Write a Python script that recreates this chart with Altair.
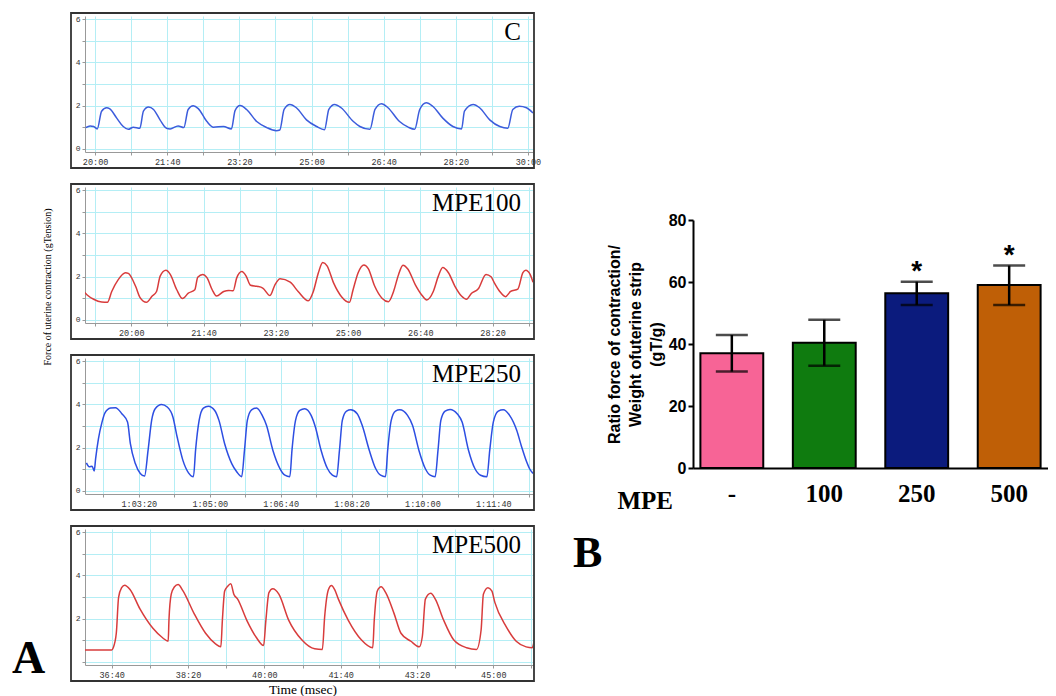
import altair as alt
import pandas as pd

# ---------------- traces (time in s, tension in g) ----------------
C_TRACE = [(1187,0.98),(1193,1.06),(1198,1.03),(1203,0.92),(1209,1.74),(1216,1.90),(1220,1.86),(1230,1.42),(1239,1.03),(1246,0.90),(1253,1.00),(1262,0.95),(1267,1.74),(1274,1.93),(1281,1.82),(1290,1.34),(1299,0.95),(1304,0.92),(1315,1.06),(1323,0.98),(1329,1.82),(1336,1.99),(1343,1.86),(1355,1.26),(1364,1.00),(1378,1.03),(1389,0.92),(1394,1.77),(1401,2.00),(1410,1.82),(1424,1.26),(1438,0.98),(1451,0.84),(1456,0.87),(1462,1.82),(1470,2.05),(1479,1.90),(1493,1.34),(1507,1.03),(1518,0.88),(1524,1.82),(1532,2.05),(1541,1.90),(1558,1.26),(1567,1.03),(1581,0.90),(1588,1.82),(1597,2.09),(1606,1.90),(1622,1.26),(1634,1.00),(1643,0.90),(1650,1.82),(1659,2.13),(1668,1.97),(1682,1.42),(1696,1.03),(1708,0.92),(1712,1.74),(1724,2.05),(1733,1.90),(1747,1.34),(1761,1.03),(1772,0.95),(1779,1.82),(1788,1.97),(1798,1.90),(1807,1.66)]

MPE100_TRACE = [(1133,1.36),(1139,1.15),(1148,0.95),(1159,0.82),(1167,0.81),(1173,1.31),(1182,1.86),(1192,2.18),(1196,2.15),(1206,1.55),(1212,1.04),(1221,0.81),(1229,1.10),(1235,1.31),(1240,2.02),(1248,2.29),(1254,2.10),(1263,1.39),(1271,0.98),(1279,1.23),(1288,1.39),(1292,1.97),(1299,2.10),(1305,1.94),(1312,1.39),(1318,1.10),(1328,1.31),(1335,1.36),(1341,1.34),(1346,1.94),(1353,2.23),(1359,2.02),(1365,1.60),(1374,1.55),(1382,1.47),(1392,1.12),(1399,1.63),(1406,1.90),(1420,1.74),(1431,1.31),(1445,0.88),(1452,1.31),(1459,2.18),(1465,2.65),(1471,2.50),(1480,1.71),(1491,1.07),(1502,0.81),(1507,1.39),(1514,2.18),(1522,2.54),(1528,2.37),(1537,1.55),(1547,1.00),(1556,0.84),(1563,1.31),(1570,2.10),(1576,2.53),(1583,2.34),(1593,1.63),(1602,1.15),(1609,0.92),(1618,1.31),(1625,2.02),(1631,2.42),(1639,2.18),(1648,1.55),(1657,1.10),(1664,0.95),(1671,1.23),(1680,1.42),(1691,2.10),(1698,1.99),(1702,1.74),(1710,1.31),(1718,1.07),(1725,1.31),(1735,1.42),(1742,2.18),(1746,2.29),(1752,2.10),(1756,1.74)]

MPE250_TRACE = [(3726,1.29),(3730,1.11),(3734,1.14),(3737,0.92),(3739,1.49),(3743,2.42),(3748,3.18),(3752,3.60),(3760,3.83),(3767,3.85),(3776,3.57),(3784,3.18),(3788,2.18),(3795,1.26),(3802,0.80),(3808,0.68),(3813,1.88),(3818,3.26),(3823,3.80),(3832,4.00),(3840,3.88),(3848,3.42),(3854,2.49),(3862,1.42),(3870,0.83),(3877,0.65),(3880,1.88),(3885,3.26),(3891,3.83),(3898,3.92),(3907,3.72),(3913,3.26),(3921,2.18),(3931,1.26),(3938,0.88),(3945,0.65),(3949,1.88),(3953,3.26),(3959,3.75),(3966,3.83),(3974,3.49),(3980,3.03),(3989,1.88),(3999,1.03),(4006,0.72),(4013,0.65),(4016,1.88),(4021,3.26),(4027,3.72),(4034,3.80),(4043,3.49),(4049,2.95),(4057,1.88),(4066,1.03),(4073,0.72),(4079,0.65),(4083,1.88),(4087,3.26),(4093,3.69),(4099,3.75),(4108,3.57),(4115,3.03),(4125,1.88),(4134,1.03),(4141,0.72),(4148,0.65),(4151,1.88),(4156,3.26),(4162,3.69),(4168,3.75),(4179,3.49),(4186,3.03),(4195,1.88),(4204,1.03),(4211,0.72),(4218,0.65),(4222,1.88),(4226,3.26),(4232,3.69),(4239,3.77),(4249,3.57),(4256,3.18),(4265,1.88),(4274,1.03),(4282,0.72),(4291,0.65),(4295,1.88),(4300,3.18),(4307,3.69),(4314,3.75),(4323,3.49),(4333,2.80),(4340,2.03),(4347,1.34),(4351,1.03),(4356,0.80)]

MPE500_TRACE = [(2165,0.54),(2200,0.54),(2202,0.65),(2206,1.32),(2209,2.98),(2213,3.43),(2217,3.55),(2224,3.35),(2237,2.45),(2254,1.55),(2267,1.10),(2274,0.95),(2275,1.92),(2278,3.13),(2282,3.46),(2287,3.58),(2293,3.31),(2308,2.23),(2323,1.32),(2336,0.83),(2343,0.69),(2345,1.92),(2348,3.28),(2352,3.50),(2356,3.61),(2360,3.13),(2365,2.90),(2377,1.92),(2390,1.10),(2399,0.75),(2402,1.92),(2406,3.20),(2411,3.38),(2419,3.13),(2432,1.92),(2449,1.02),(2466,0.60),(2476,0.57),(2479,2.08),(2484,3.35),(2488,3.53),(2492,3.35),(2497,2.90),(2510,1.92),(2527,1.02),(2542,0.65),(2544,1.92),(2548,3.28),(2553,3.47),(2559,3.20),(2570,2.23),(2579,1.32),(2592,0.95),(2603,0.69),(2607,1.17),(2611,2.90),(2618,3.17),(2624,2.90),(2635,1.92),(2648,1.02),(2665,0.65),(2678,0.57),(2684,1.47),(2687,3.13),(2693,3.43),(2698,3.28),(2702,2.75),(2717,1.62),(2730,0.95),(2743,0.69),(2751,0.65),(2753,0.87)]

TRACES = [C_TRACE, MPE100_TRACE, MPE250_TRACE, MPE500_TRACE]
PANEL_LABELS = ["C", "MPE100", "MPE250", "MPE500"]
PANEL_DOMAINS = [[1186, 1807], [1136, 1756], [3724, 4356], [2165, 2752]]
PANEL_TICKS = [list(range(1200, 1801, 50)), list(range(1150, 1751, 50)),
               list(range(3750, 4351, 50)), list(range(2200, 2751, 50))]
TIME_FMT = ["%M:%S", "%M:%S", "%-H:%M:%S", "%M:%S"]
LINE_COLORS = ["#3C5CDC", "#D83C3C", "#2D4EE2", "#D83C3C"]
Y_TICKS = [0, 1, 2, 3, 4, 5, 6]
Y_TITLE_LEFT = "Force of uterine contraction (gTension)"
X_TITLE_LEFT = "Time (msec)"

# ---------------- bar chart ----------------
BAR_GROUPS = ["-", "100", "250", "500"]
BAR_MEAN = [37.0, 40.4, 56.4, 59.0]
BAR_LO = [31.1, 33.0, 52.6, 52.6]
BAR_HI = [42.9, 47.8, 60.1, 65.3]
BAR_COLORS = ["#F76496", "#0F7B0F", "#0B1B7D", "#BF5F06"]
BAR_SIG = ["", "", "*", "*"]
BAR_Y_TITLE = ["Ratio force of contraction/", "Weight ofuterine strip", "(gT/g)"]

GRID = "#B4EEF5"
W, H = 448, 136
one = pd.DataFrame({"k": [0]})


def txt(label, x, y, **kw):
    return alt.Chart(one).mark_text(**kw).encode(
        x=alt.value(x), y=alt.value(y), text=alt.value(label))


def panel(i):
    df = pd.DataFrame(TRACES[i], columns=["t", "v"])
    ycond = "datum.value % 2 == 0" + (" && datum.value > 0" if i == 3 else "")
    x_axis = alt.Axis(values=PANEL_TICKS[i], title=None, grid=True, gridColor=GRID,
                      labelExpr=f"datum.value % 100 == 0 ? utcFormat(datum.value*1000, '{TIME_FMT[i]}') : ''",
                      labelFont="Liberation Mono", labelFontSize=8.5, labelColor="#333",
                      tickColor="#999", tickSize=3, domainColor="#999", labelPadding=2,
                      labelOverlap=False, labelFlush=False)
    y_axis = alt.Axis(values=Y_TICKS, title=None, grid=True, gridColor=GRID,
                      labelExpr=f"{ycond} ? datum.label : ''",
                      labelFont="Liberation Mono", labelFontSize=8, labelColor="#333",
                      tickColor="#999", tickSize=3, domainColor="#999", labelPadding=2)
    line = alt.Chart(df).mark_line(color=LINE_COLORS[i], strokeWidth=1.5,
                                   interpolate="monotone", clip=True).encode(
        x=alt.X("t:Q", scale=alt.Scale(domain=PANEL_DOMAINS[i], nice=False, zero=False), axis=x_axis),
        y=alt.Y("v:Q", scale=alt.Scale(domain=[-0.15, 6.15], nice=False, zero=False), axis=y_axis),
    )
    frame = alt.Chart(one).mark_rect(filled=False, stroke="#333", strokeWidth=1.8).encode(
        x=alt.value(-14), x2=alt.value(W + 1), y=alt.value(-3), y2=alt.value(H + 16))
    label = txt(PANEL_LABELS[i], W - 12, 24, align="right", baseline="alphabetic",
                font="Liberation Serif", fontSize=25, color="black")
    layers = [line, frame, label]
    if i == 1:
        layers.append(txt(Y_TITLE_LEFT, -37, 100, angle=270, align="center", baseline="middle",
                          font="Liberation Serif", fontSize=10, color="black"))
    if i == 3:
        layers.append(txt(X_TITLE_LEFT, 218, 160.5, align="center", baseline="middle",
                          font="Liberation Serif", fontSize=13.5, color="black"))
        layers.append(txt("A", -73, 144, align="left", baseline="alphabetic",
                          font="Liberation Serif", fontSize=46, fontWeight="bold", color="black"))
    return alt.layer(*layers).properties(width=W, height=H)


left = alt.vconcat(*[panel(i) for i in range(4)], spacing=35, bounds="flush")

bar_df = pd.DataFrame({"group": BAR_GROUPS, "mean": BAR_MEAN, "lo": BAR_LO,
                       "hi": BAR_HI, "sig": BAR_SIG})
BW, BH = 355, 248
base = alt.Chart(bar_df).encode(
    x=alt.X("group:N", sort=BAR_GROUPS,
            scale=alt.Scale(paddingInner=0.32, paddingOuter=0.08),
            axis=alt.Axis(title=None, labelAngle=0, labelFont="Liberation Serif",
                          labelFontWeight="bold", labelFontSize=25, labelColor="black",
                          ticks=False, domainColor="black", domainWidth=2, labelPadding=13)))
bars = base.mark_bar(stroke="black", strokeWidth=2).encode(
    y=alt.Y("mean:Q", scale=alt.Scale(domain=[0, 80], nice=False),
            axis=alt.Axis(values=[0, 20, 40, 60, 80], title=BAR_Y_TITLE, grid=False,
                          titleFont="Liberation Sans", titleFontWeight="bold", titleFontSize=16,
                          titleColor="black", titleLineHeight=21, titlePadding=4,
                          labelFont="Liberation Sans", labelFontWeight="bold", labelFontSize=16,
                          labelColor="black", domainColor="black", domainWidth=2,
                          tickColor="black", tickWidth=2, tickSize=5, labelPadding=2)),
    color=alt.Color("group:N", scale=alt.Scale(domain=BAR_GROUPS, range=BAR_COLORS), legend=None))
err = base.mark_rule(strokeWidth=2.5, color="black").encode(y="lo:Q", y2="hi:Q")
cap_hi = base.mark_tick(size=32, thickness=2.5, color="black").encode(y="hi:Q")
cap_lo = base.mark_tick(size=32, thickness=2.5, color="black").encode(y="lo:Q")
stars = base.mark_text(font="Liberation Sans", fontWeight="bold", fontSize=28,
                       baseline="alphabetic", dy=-2, color="black").encode(y="hi:Q", text="sig:N")
mpe = txt("MPE", -20, 289, align="right", baseline="alphabetic", font="Liberation Serif",
          fontSize=25, fontWeight="bold", color="black")
blab = txt("B", -120, 347, align="left", baseline="alphabetic", font="Liberation Serif",
           fontSize=44, fontWeight="bold", color="black")
bar_chart = alt.layer(bars, err, cap_hi, cap_lo, stars, mpe, blab).properties(width=BW, height=BH)

spacer = alt.Chart(one).mark_point(opacity=0).encode(
    x=alt.value(0), y=alt.value(0)).properties(width=BW, height=204)
right = alt.vconcat(spacer, bar_chart, spacing=0, bounds="flush")

# the nested left column counts as zero width in a flush layout, so the spacing
# is the full distance from the left plot edge to the bar chart's plot edge
chart = alt.hconcat(left, right, spacing=W + 160, bounds="flush").properties(
    padding={"left": 4, "top": 4, "right": 0, "bottom": 0}
).configure_view(stroke=None)

chart.save("out.html", embed_options={"renderer": "svg", "actions": False})
